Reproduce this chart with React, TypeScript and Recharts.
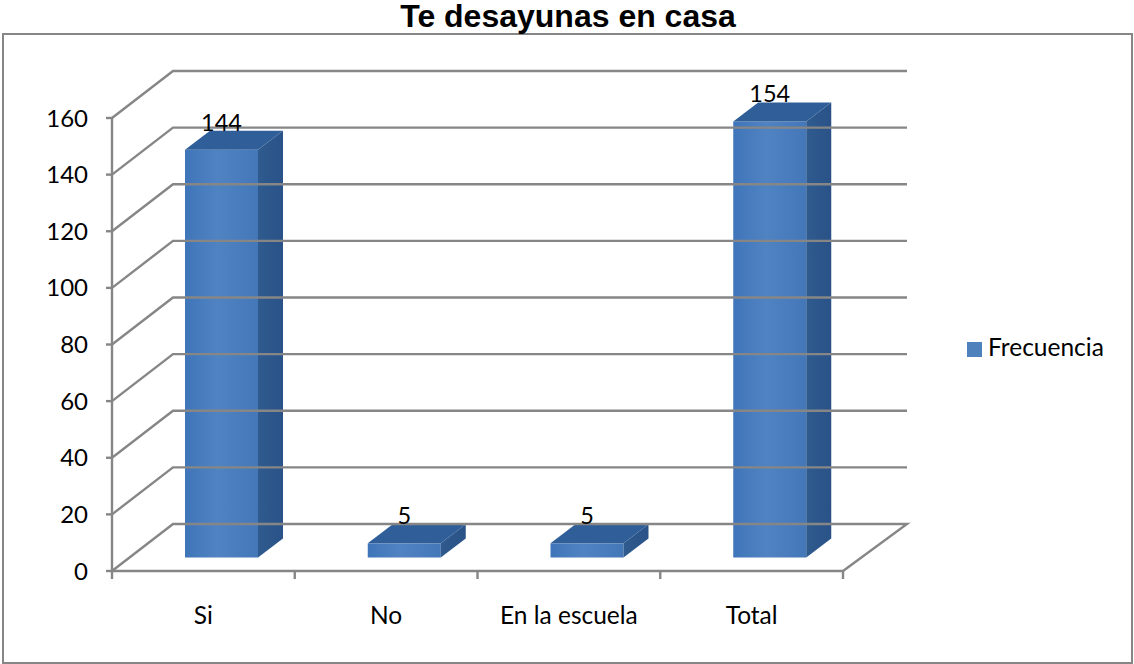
import { BarChart, Bar, XAxis, YAxis, Legend, ReferenceLine, LabelList } from "recharts";

const categories = ["Si", "No", "En la escuela", "Total"];
const frecuencia = [144, 5, 5, 154];
const yTicks = [0, 20, 40, 60, 80, 100, 120, 140, 160];

const chartData = categories.map((name, i) => ({ name, frecuencia: frecuencia[i] }));

const GRID = "#868686";
const FONT = "Lato, 'Open Sans', sans-serif";

// fake 3D depth, in px
const WALL_DX = 61;
const WALL_DY = 47;
const BAR_DX = 18;
const BAR_DY = 13.5;
const SIDE_DX = 25;
const SIDE_DY = 19;

const GridLine3D = (props: any) => {
  const { x1, x2, y1, isFloor } = props;
  const backY = y1 - WALL_DY;
  const backRight = x2 + 64;
  let d = `M${x1},${y1} L${x1 + WALL_DX},${backY} L${backRight},${backY}`;
  if (isFloor) d += ` L${x2},${y1}`;
  return <path d={d} fill="none" stroke={GRID} strokeWidth={2.4} />;
};

const Bar3D = (props: any) => {
  const { x, y, width, height } = props;
  const left = x + BAR_DX;
  const right = left + width;
  const top = y - BAR_DY;
  const bottom = y + height - BAR_DY;
  return (
    <g>
      <rect x={left} y={top} width={width} height={bottom - top} fill="url(#barFront)" />
      <path
        d={`M${right},${top} L${right + SIDE_DX},${top - SIDE_DY} L${right + SIDE_DX},${bottom - SIDE_DY} L${right},${bottom} Z`}
        fill="url(#barSide)"
      />
      <path
        d={`M${left},${top} L${left + SIDE_DX},${top - SIDE_DY} L${right + SIDE_DX},${top - SIDE_DY} L${right},${top} Z`}
        fill="#2f5e98"
      />
    </g>
  );
};

const BarValue = (props: any) => {
  const { x, y, width, value } = props;
  return (
    <text x={x + width / 2 + BAR_DX} y={y - 41} dy="0.36em" textAnchor="middle" fontSize={23.5} fontFamily={FONT} fill="#000">
      {value}
    </text>
  );
};

// tick marks sit on the category borders, labels in the middle
const CategoryTick = (props: any) => {
  const { x, y, payload, index } = props;
  const band = 731 / categories.length;
  const top = y - 8;
  return (
    <g>
      <line x1={x - band / 2} x2={x - band / 2} y1={top} y2={top + 8} stroke={GRID} strokeWidth={2.4} />
      {index === categories.length - 1 && (
        <line x1={x + band / 2} x2={x + band / 2} y1={top} y2={top + 8} stroke={GRID} strokeWidth={2.4} />
      )}
      <text x={x} y={615} dy="0.36em" textAnchor="middle" fontSize={24.5} fontFamily={FONT} fill="#000">
        {payload.value}
      </text>
    </g>
  );
};

export default function App() {
  return (
    <div style={{ position: "absolute", left: 0, top: 0, width: 1134, height: 664, background: "#fff", overflow: "hidden" }}>
      <div style={{ position: "absolute", left: 2, top: 33, width: 1127, height: 627, border: `2px solid ${GRID}` }} />
      <div
        style={{
          position: "absolute",
          left: 0,
          top: 1,
          width: 1136,
          textAlign: "center",
          fontFamily: "'Liberation Sans', Arial, sans-serif",
          fontWeight: 700,
          fontSize: 32,
          lineHeight: "30px",
          color: "#000",
        }}
      >
        Te desayunas en casa
      </div>
      <BarChart
        style={{ position: "absolute", left: 0, top: 0 }}
        width={1134}
        height={664}
        data={chartData}
        margin={{ top: 118, right: 291, bottom: 0, left: 0 }}
      >
        <defs>
          <linearGradient id="barFront" x1="0" y1="0" x2="1" y2="0">
            <stop offset="0%" stopColor="#3f75b9" />
            <stop offset="45%" stopColor="#5083c2" />
            <stop offset="100%" stopColor="#4377b8" />
          </linearGradient>
          <linearGradient id="barSide" x1="0" y1="0" x2="1" y2="0">
            <stop offset="0%" stopColor="#2f5b8e" />
            <stop offset="100%" stopColor="#2a5288" />
          </linearGradient>
        </defs>
        {yTicks.map((t) => (
          <ReferenceLine key={t} y={t} shape={(p: any) => <GridLine3D {...p} isFloor={t === 0} />} />
        ))}
        <XAxis
          dataKey="name"
          height={93}
          axisLine={{ stroke: GRID, strokeWidth: 2.4 }}
          tickLine={false}
          tick={<CategoryTick />}
          tickSize={0}
          tickMargin={8}
          interval={0}
        />
        <YAxis
          width={112}
          domain={[0, 160]}
          ticks={yTicks}
          interval={0}
          axisLine={{ stroke: GRID, strokeWidth: 2.4 }}
          tickLine={{ stroke: GRID, strokeWidth: 2.4 }}
          tickSize={6}
          tickMargin={18}
          tick={{ fill: "#000", fontSize: 24, fontFamily: FONT }}
        />
        <Legend
          layout="vertical"
          align="center"
          verticalAlign="middle"
          iconType="square"
          iconSize={15}
          wrapperStyle={{ left: 967, top: 332, width: 160, fontFamily: FONT, fontSize: 24.5 }}
          formatter={(value: string) => <span style={{ color: "#000", marginLeft: 2 }}>{value}</span>}
        />
        <Bar dataKey="frecuencia" name="Frecuencia" fill="#4f81bd" barSize={73} shape={<Bar3D />} isAnimationActive={false}>
          <LabelList dataKey="frecuencia" content={<BarValue />} />
        </Bar>
      </BarChart>
    </div>
  );
}
